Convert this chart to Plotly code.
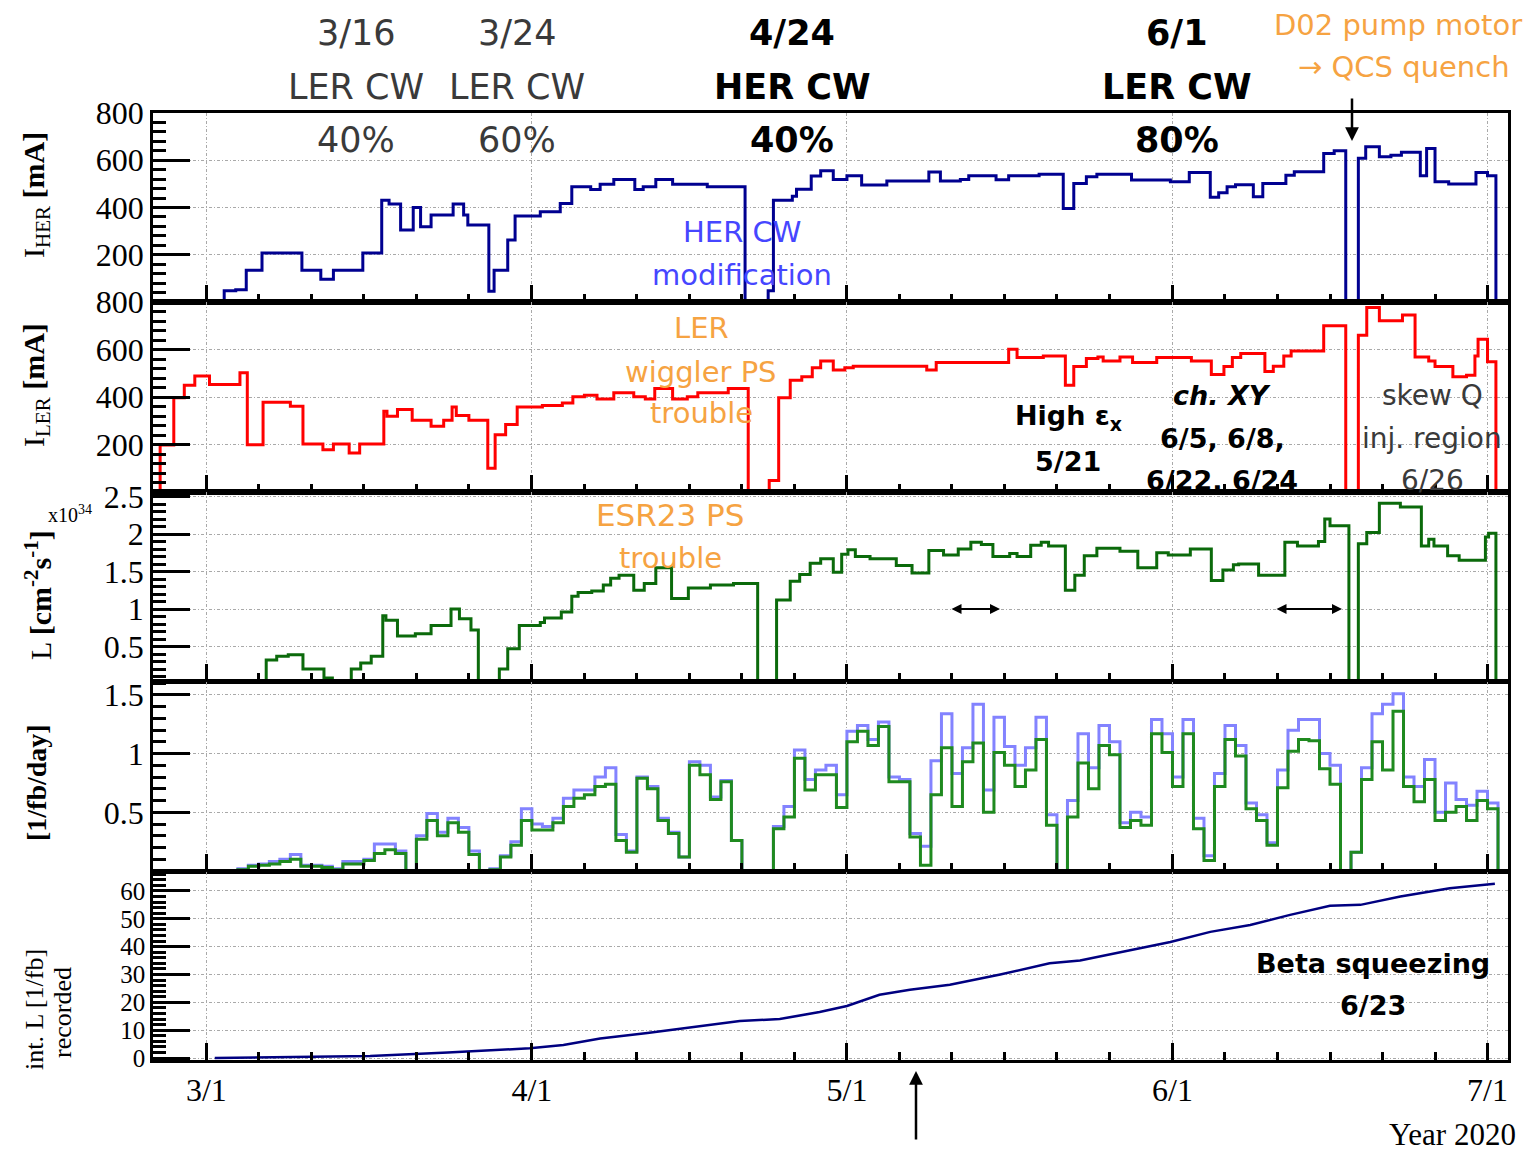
import pandas as pd
import plotly.graph_objects as go

BASE = pd.Timestamp("2020-03-01")

# ---- data (days counted from 2020-03-01) ----
# HER current: (day the level starts, mA)
her_steps = [
    (-1.6, 0), (1.7, 48), (2.8, 52), (3.8, 134), (5.3, 207), (9.1, 134), (10.9, 96), (12.1, 134),
    (14.9, 207), (16.7, 431), (17.4, 415), (18.5, 305), (19.7, 400), (20.4, 319), (21.4, 368),
    (23.5, 415), (24.5, 368), (24.9, 326), (26.9, 46), (27.4, 134), (28.7, 262), (29.4, 364),
    (31.8, 382), (33.7, 417), (34.8, 488), (36.6, 476), (37.5, 498), (38.8, 519), (40.8, 476),
    (41.6, 488), (42.8, 519), (44.4, 498), (47.7, 488), (51.3, 0), (53.5, 48), (54.0, 431),
    (55.8, 448), (56.2, 477), (57.6, 533), (58.5, 556), (59.7, 519), (61.0, 534), (62.4, 495),
    (64.8, 512), (68.8, 550), (69.9, 512), (71.8, 519), (72.6, 534), (75.2, 517), (76.4, 534),
    (79.3, 541), (81.6, 396), (82.6, 502), (83.8, 530), (84.8, 541), (88.1, 516), (91.8, 509),
    (93.6, 548), (95.6, 443), (96.4, 462), (97.2, 488), (98.0, 496), (99.7, 445), (100.6, 502),
    (102.8, 537), (103.6, 551), (106.4, 629), (107.4, 640), (108.5, 0), (109.7, 608), (110.4, 657),
    (111.7, 615), (112.8, 621), (113.8, 634), (115.6, 534), (116.2, 650), (117.0, 509), (118.3, 499),
    (120.9, 548), (122.0, 534), (122.8, 0), (123.9, 0),
]

# LER current: (day the level starts, mA)
ler_steps = [
    (-4.45, 0), (-4.4, 198), (-3.1, 397), (-2.1, 450), (-1.1, 488), (0.3, 453), (3.2, 502),
    (3.9, 199), (5.4, 378), (8.0, 361), (9.2, 202), (11.1, 178), (12.1, 202), (13.6, 164),
    (14.6, 202), (16.9, 340), (17.2, 319), (18.2, 347), (19.6, 302), (21.4, 277), (22.6, 302),
    (23.4, 358), (23.8, 322), (25.0, 302), (26.8, 100), (27.5, 241), (28.5, 284), (29.6, 358),
    (32.0, 364), (33.9, 375), (34.9, 401), (36.0, 407), (37.2, 392), (38.8, 418), (40.7, 401),
    (41.8, 392), (42.7, 436), (44.4, 392), (45.8, 401), (46.8, 418), (49.7, 436), (51.6, 0),
    (53.6, 48), (54.5, 397), (55.6, 471), (56.7, 485), (57.7, 523), (58.5, 552), (59.7, 514),
    (60.8, 523), (61.6, 530), (68.6, 514), (69.5, 545), (76.4, 601), (77.2, 566), (79.7, 573),
    (81.8, 450), (82.6, 528), (83.8, 562), (84.9, 568), (85.4, 552), (87.0, 568), (88.2, 545),
    (90.5, 566), (93.8, 552), (95.7, 495), (96.9, 528), (97.7, 566), (98.5, 583), (100.8, 507),
    (101.6, 530), (102.6, 573), (103.3, 594), (106.4, 700), (108.5, 0), (109.7, 660),
    (110.5, 777), (111.7, 721), (113.9, 745), (115.1, 568), (116.4, 552), (117.0, 528),
    (118.7, 485), (120.0, 492), (120.8, 573), (121.1, 643), (122.0, 548), (122.8, 0), (123.9, 0),
]

# peak luminosity: (day the level starts, 1e34 cm^-2 s^-1)
lumi_steps = [
    (4.0, 0.02), (5.7, 0.32), (6.7, 0.37), (7.8, 0.39), (9.2, 0.20), (11.2, 0.08), (12.0, 0.0),
    (13.8, 0.20), (14.7, 0.28), (15.7, 0.37), (16.8, 0.91), (17.1, 0.85), (18.2, 0.64),
    (19.9, 0.67), (21.4, 0.78), (23.3, 1.00), (24.1, 0.87), (25.2, 0.72), (25.9, 0.0),
    (27.9, 0.20), (28.7, 0.47), (29.8, 0.78), (31.8, 0.82), (32.2, 0.88), (33.8, 0.96),
    (34.8, 1.17), (35.4, 1.22), (36.7, 1.24), (37.8, 1.32), (38.5, 1.41), (39.3, 1.45),
    (40.7, 1.25), (41.7, 1.34), (42.8, 1.55), (44.3, 1.14), (45.9, 1.28), (48.0, 1.32),
    (50.2, 1.34), (52.5, 0.0), (54.3, 1.12), (55.6, 1.37), (56.5, 1.46), (57.5, 1.61),
    (58.5, 1.67), (59.7, 1.49), (60.5, 1.73), (61.1, 1.79), (61.8, 1.70), (63.2, 1.67),
    (65.7, 1.58), (67.2, 1.48), (68.8, 1.78), (70.2, 1.72), (71.6, 1.80), (72.8, 1.89),
    (73.8, 1.86), (74.9, 1.70), (76.5, 1.74), (77.2, 1.70), (78.5, 1.85), (79.5, 1.89),
    (80.2, 1.84), (81.8, 1.25), (82.7, 1.45), (83.6, 1.71), (84.8, 1.81), (87.0, 1.77),
    (88.7, 1.55), (90.5, 1.75), (91.6, 1.72), (93.7, 1.80), (95.7, 1.38), (96.8, 1.52),
    (97.8, 1.59), (98.3, 1.60), (100.2, 1.45), (102.7, 1.89), (103.9, 1.84), (105.9, 1.90),
    (106.5, 2.20), (107.0, 2.11), (108.8, 0.0), (109.7, 1.87), (110.5, 2.02), (111.7, 2.41),
    (113.7, 2.36), (115.7, 1.84), (116.4, 1.93), (116.9, 1.84), (118.2, 1.71), (119.3, 1.65),
    (121.8, 1.96), (122.1, 2.01), (122.8, 0.0), (123.9, 0.0),
]

# daily integrated luminosity [1/fb/day], one value per day from 3/2 to 7/1
daily_first_day = "2020-03-02"
daily_delivered = [
    0, 0, 0.02, 0.05, 0.06, 0.08, 0.10, 0.14, 0.05, 0.05,
    0.04, 0.02, 0.08, 0.08, 0.10, 0.23, 0.23, 0.17, 0, 0.30,
    0.49, 0.33, 0.45, 0.37, 0.17, 0, 0.02, 0.13, 0.25, 0.53,
    0.40, 0.38, 0.45, 0.62, 0.69, 0.69, 0.80, 0.88, 0.31, 0.17,
    0.80, 0.72, 0.45, 0.33, 0.12, 0.93, 0.90, 0.63, 0.77, 0.26,
    0, 0, 0, 0.38, 0.55, 1.03, 0.78, 0.86, 0.90, 0.65,
    1.19, 1.24, 1.12, 1.27, 0.80, 0.78, 0.32, 0.21, 0.94, 1.34,
    0.83, 1.05, 1.42, 0.69, 1.31, 1.06, 0.90, 1.05, 1.31, 0.48,
    0, 0.60, 1.17, 0.88, 1.24, 1.10, 0.41, 0.50, 0.46, 1.29,
    1.17, 0.80, 1.29, 0.45, 0.13, 0.83, 1.24, 1.07, 0.58, 0.48,
    0.24, 0.86, 1.20, 1.29, 1.29, 1.00, 0.90, 0, 0.16, 0.88,
    1.34, 1.42, 1.51, 0.80, 0.72, 0.95, 0.50, 0.75, 0.61, 0.56,
    0.68, 0.58,
]
daily_recorded = [
    0, 0, 0.01, 0.04, 0.05, 0.06, 0.08, 0.10, 0.04, 0.04,
    0.03, 0.01, 0.06, 0.06, 0.09, 0.15, 0.18, 0.15, 0, 0.27,
    0.43, 0.30, 0.41, 0.33, 0.14, 0, 0.01, 0.12, 0.22, 0.43,
    0.35, 0.35, 0.41, 0.55, 0.62, 0.65, 0.72, 0.74, 0.26, 0.16,
    0.79, 0.70, 0.43, 0.32, 0.12, 0.90, 0.82, 0.61, 0.76, 0.26,
    0, 0, 0, 0.36, 0.46, 0.96, 0.69, 0.82, 0.82, 0.54,
    1.10, 1.19, 1.07, 1.23, 0.76, 0.76, 0.29, 0.05, 0.65, 1.05,
    0.55, 0.93, 1.09, 0.50, 1.01, 0.90, 0.72, 0.86, 1.12, 0.39,
    0, 0.46, 0.92, 0.70, 1.07, 0.99, 0.37, 0.43, 0.39, 1.17,
    1.01, 0.72, 1.17, 0.36, 0.09, 0.72, 1.12, 0.98, 0.53, 0.43,
    0.22, 0.71, 1.02, 1.12, 1.11, 0.87, 0.74, 0, 0.16, 0.78,
    1.10, 0.86, 1.36, 0.72, 0.59, 0.78, 0.43, 0.50, 0.55, 0.43,
    0.60, 0.53,
]

# recorded integrated luminosity [1/fb]: (day, value)
intlumi_points = [
    (0.8, 0), (15.6, 0.7), (23.0, 2.0), (30.8, 3.5), (34.0, 4.7), (37.5, 7.0), (42.0, 9.0),
    (47.0, 11.5), (50.8, 13.3), (54.6, 14.0), (58.4, 16.5), (61.0, 18.7), (64.1, 22.7),
    (67.0, 24.5), (70.8, 26.3), (75.6, 30.0), (80.3, 34.0), (83.2, 35.0), (87.0, 38.0),
    (91.8, 41.7), (95.6, 45.3), (99.4, 47.8), (103.2, 51.4), (107.0, 54.7), (109.9, 55.0),
    (113.7, 58.0), (118.4, 61.0), (122.7, 62.6),
]

month_ticks = ["2020-03-01", "2020-04-01", "2020-05-01", "2020-06-01", "2020-07-01"]
month_labels = ["3/1", "4/1", "5/1", "6/1", "7/1"]
minor_days = [6, 11, 16, 21, 26]
minor_months = [3, 4, 5, 6]


def to_dates(days):
    return [BASE + pd.Timedelta(days=float(d)) for d in days]


def unzip(pairs):
    return [p[0] for p in pairs], [p[1] for p in pairs]


# ---- page geometry ----
W, H = 1538, 1151
ML, MR, MT, MB = 153, 30, 113, 91
PW = W - ML - MR
PH = H - MT - MB


def fx(px):
    return (px - ML) / PW


def fy(py):
    return (H - MB - py) / PH


SERIF = "Liberation Serif"
SANS = "DejaVu Sans"
GRID = "#a9a9a9"
DASH = "3px,2px,1px,2px"
ORANGE = "#f6a342"
TXTBLUE = "#4646ff"
DARK = "#3a3a3a"

fig = go.Figure()

hd, hv = unzip(her_steps)
fig.add_trace(go.Scatter(x=to_dates(hd), y=hv, mode="lines", line=dict(color="#000090", width=3, shape="hv"),
                         xaxis="x", yaxis="y", hoverinfo="skip"))
ld, lv = unzip(ler_steps)
fig.add_trace(go.Scatter(x=to_dates(ld), y=lv, mode="lines", line=dict(color="#ff0000", width=3, shape="hv"),
                         xaxis="x2", yaxis="y2", hoverinfo="skip"))
md, mv = unzip(lumi_steps)
fig.add_trace(go.Scatter(x=to_dates(md), y=mv, mode="lines", line=dict(color="#0b6a0b", width=3, shape="hv"),
                         xaxis="x3", yaxis="y3", hoverinfo="skip"))

daily_x = list(pd.date_range(daily_first_day, periods=len(daily_recorded) + 1, freq="D"))
daily_x.append(BASE + pd.Timedelta(days=123.9))
fig.add_trace(go.Scatter(x=daily_x, y=daily_delivered + [0, 0], mode="lines",
                         line=dict(color="#8383ff", width=3, shape="hv"),
                         xaxis="x4", yaxis="y4", hoverinfo="skip"))
fig.add_trace(go.Scatter(x=daily_x, y=daily_recorded + [0, 0], mode="lines",
                         line=dict(color="#1f8a1f", width=3, shape="hv"),
                         xaxis="x4", yaxis="y4", hoverinfo="skip"))
idd, idv = unzip(intlumi_points)
fig.add_trace(go.Scatter(x=to_dates(idd), y=idv, mode="lines", line=dict(color="#000080", width=2.5),
                         xaxis="x5", yaxis="y5", hoverinfo="skip"))

x_range = [BASE + pd.Timedelta(days=-5.08), BASE + pd.Timedelta(days=123.95)]
minor_x = [f"2020-{m:02d}-{d:02d}" for m in minor_months for d in minor_days]

panels = [  # (pixel top, pixel bottom)
    (113, 302), (302, 492), (492, 681), (682, 871), (872, 1060),
]
y_specs = [
    dict(range=[0, 800], tickvals=[200, 400, 600, 800], minor=40, size=32),
    dict(range=[0, 800], tickvals=[200, 400, 600, 800], minor=40, size=32),
    dict(range=[0.04, 2.56], tickvals=[0.5, 1, 1.5, 2, 2.5], ticktext=["0.5", "1", "1.5", "2", "2.5"],
         minor=0.1, size=32),
    dict(range=[0, 1.61], tickvals=[0.5, 1, 1.5], ticktext=["0.5", "1", "1.5"], minor=0.1, size=32),
    dict(range=[-0.7, 66.8], tickvals=[0, 10, 20, 30, 40, 50, 60], minor=2, size=25),
]

layout = dict(
    width=W, height=H, margin=dict(l=ML, r=MR, t=MT, b=MB),
    paper_bgcolor="white", plot_bgcolor="white", showlegend=False,
)

for i, ((ptop, pbot), ys) in enumerate(zip(panels, y_specs), start=1):
    sx = "" if i == 1 else str(i)
    last = i == len(panels)
    xa = dict(
        type="date", range=x_range, domain=[0, 1], anchor="y" + sx,
        showline=True, linecolor="black", linewidth=2.5, mirror=True,
        ticks="inside", ticklen=17, tickwidth=2.5, tickcolor="black",
        tickmode="array", tickvals=month_ticks, ticktext=month_labels,
        showticklabels=last, tickfont=dict(family=SERIF, size=32, color="black"),
        showgrid=True, gridcolor=GRID, griddash=DASH, gridwidth=1,
        minor=dict(tickmode="array", tickvals=minor_x, ticks="inside", ticklen=8,
                   tickwidth=2.5, tickcolor="black", showgrid=False),
        zeroline=False, fixedrange=True,
    )
    if i > 1:
        xa["matches"] = "x"
    ya = dict(
        domain=[fy(pbot), fy(ptop)], anchor="x" + sx, range=ys["range"],
        tickmode="array", tickvals=ys["tickvals"],
        showline=True, linecolor="black", linewidth=2.5, mirror=True,
        ticks="inside", ticklen=37, tickwidth=2.5, tickcolor="black",
        tickfont=dict(family=SERIF, size=ys["size"], color="black"),
        showgrid=True, gridcolor=GRID, griddash=DASH, gridwidth=1,
        minor=dict(tick0=0, dtick=ys["minor"], ticks="inside", ticklen=13,
                   tickwidth=2.5, tickcolor="black", showgrid=False),
        zeroline=False, fixedrange=True,
    )
    if "ticktext" in ys:
        ya["ticktext"] = ys["ticktext"]
    layout["xaxis" + sx] = xa
    layout["yaxis" + sx] = ya

fig.update_layout(**layout)

annotations = []


def label(text, px, py, size, color="black", family=SANS, angle=0):
    annotations.append(dict(
        text=text, x=fx(px), y=fy(py), xref="paper", yref="paper",
        xanchor="center", yanchor="middle", showarrow=False, textangle=angle,
        font=dict(family=family, size=size, color=color),
    ))


def arrow(px, py, dx, dy, width=2.5, both=False, head=1.0):
    annotations.append(dict(
        text="", x=fx(px), y=fy(py), xref="paper", yref="paper",
        ax=dx, ay=dy, axref="pixel", ayref="pixel", showarrow=True,
        arrowhead=2, arrowsize=head, arrowwidth=width, arrowcolor="black",
        arrowside="end+start" if both else "end",
    ))


# crab-waist milestones along the top
for cx, lines, bold in [
    (356, ["3/16", "LER CW", "40%"], False),
    (517, ["3/24", "LER CW", "60%"], False),
    (792, ["4/24", "HER CW", "40%"], True),
    (1177, ["6/1", "LER CW", "80%"], True),
]:
    for line, ly in zip(lines, [33, 87, 140]):
        label(f"<b>{line}</b>" if bold else line, cx, ly, 35, "black" if bold else DARK)

label("D02 pump motor", 1398, 25, 29, ORANGE)
label("→ QCS quench", 1404, 67, 29, ORANGE)
arrow(1352, 141, 0, -44, width=2.5, head=1.1)

# in-panel notes
label("HER CW", 742, 232, 29, TXTBLUE)
label("modification", 742, 275, 29, TXTBLUE)
label("LER", 701, 328, 29, ORANGE)
label("wiggler PS", 701, 372, 29, ORANGE)
label("trouble", 701, 413, 29, ORANGE)
label("<b>High ε<sub>x</sub></b>", 1068, 417, 27)
label("<b>5/21</b>", 1068, 461, 27)
label("<b><i>ch. XY</i></b>", 1222, 395, 27)
label("<b>6/5, 6/8,</b>", 1222, 438, 27)
label("<b>6/22, 6/24</b>", 1222, 481, 27)
label("skew Q", 1432, 395, 28, DARK)
label("inj. region", 1432, 438, 28, DARK)
label("6/26", 1432, 481, 28, DARK)
label("ESR23 PS", 670, 515, 31, ORANGE)
label("trouble", 670, 558, 29, ORANGE)
arrow(1000, 609, -50, 0, width=2, both=True, head=1.0)
arrow(1342, 609, -67, 0, width=2, both=True, head=1.0)
label("<b>Beta squeezing</b>", 1373, 963, 27)
label("<b>6/23</b>", 1373, 1005, 27)
arrow(916, 1071, 0, 70, width=2.5, head=1.1)

# axis titles
label("I<sub>HER</sub> <b>[mA]</b>", 36, 195, 30, family=SERIF, angle=-90)
label("I<sub>LER</sub> <b>[mA]</b>", 36, 385, 30, family=SERIF, angle=-90)
label("L <b>[cm<sup>-2</sup>s<sup>-1</sup>]</b>", 38, 595, 30, family=SERIF, angle=-90)
label("<b>[1/fb/day]</b>", 36, 783, 28, family=SERIF, angle=-90)
label("int. L [1/fb]", 34, 1010, 26, family=SERIF, angle=-90)
label("recorded", 62, 1012, 26, family=SERIF, angle=-90)
label("x10<sup>34</sup>", 70, 514, 20, family=SERIF)
label("Year 2020", 1452, 1134, 31, family=SERIF)

fig.update_layout(annotations=annotations)

fig.write_html("out.html")
